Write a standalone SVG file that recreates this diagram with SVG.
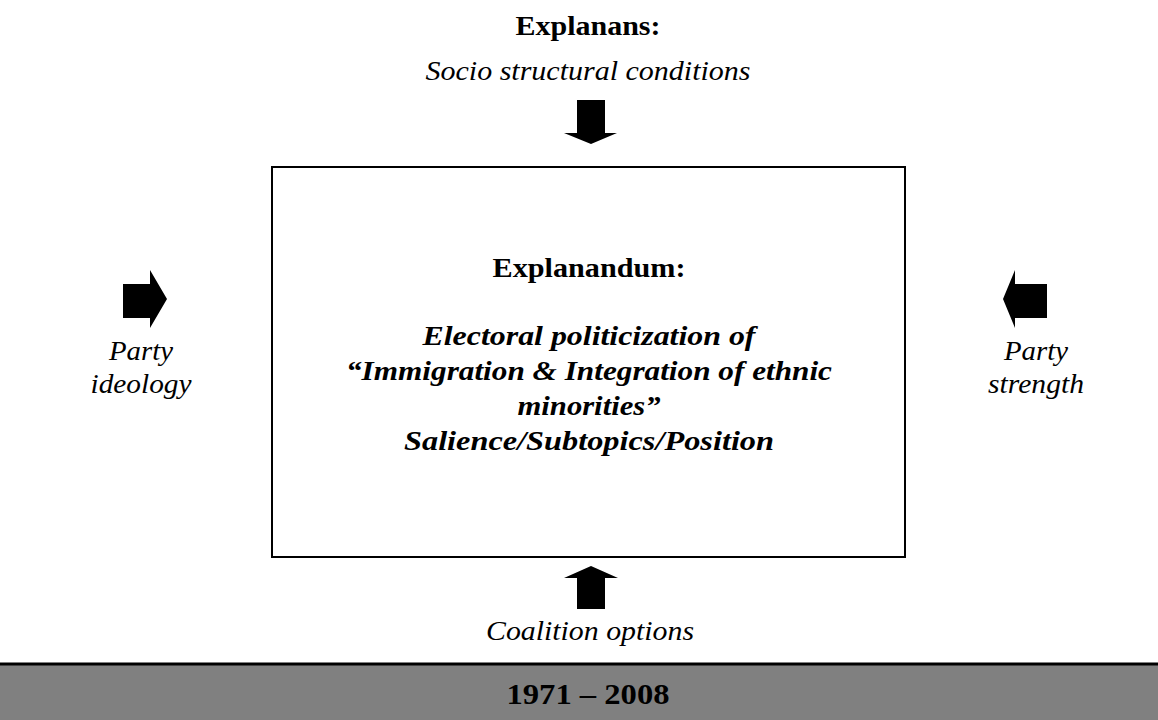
<svg xmlns="http://www.w3.org/2000/svg" width="1158" height="720" viewBox="0 0 1158 720">
<style>
text{font-family:"Liberation Serif","DejaVu Serif",serif;font-size:28px;fill:#000;text-anchor:middle}
.b{font-weight:bold}
.i{font-style:italic}
.bi{font-weight:bold;font-style:italic}
.arrow{fill:#000}
</style>
<rect width="1158" height="720" fill="#fff"/>
<g id="explanans">
<text x="588" y="35" class="b" textLength="145" lengthAdjust="spacingAndGlyphs">Explanans:</text>
<text x="588" y="80" class="i" textLength="325" lengthAdjust="spacingAndGlyphs">Socio structural conditions</text>
</g>
<g id="explanandum">
<rect x="272" y="167" width="633" height="390" fill="#fff" stroke="#000" stroke-width="2"/>
<text x="589" y="277" class="b" textLength="193" lengthAdjust="spacingAndGlyphs">Explanandum:</text>
<text x="589" y="345" class="bi" textLength="333" lengthAdjust="spacingAndGlyphs">Electoral politicization of</text>
<text x="589" y="380" class="bi" textLength="486" lengthAdjust="spacingAndGlyphs">“Immigration &amp; Integration of ethnic</text>
<text x="589" y="415" class="bi" textLength="143" lengthAdjust="spacingAndGlyphs">minorities”</text>
<text x="589" y="450" class="bi" textLength="370" lengthAdjust="spacingAndGlyphs">Salience/Subtopics/Position</text>
</g>
<g id="party-ideology">
<text x="141" y="360" class="i" textLength="64" lengthAdjust="spacingAndGlyphs">Party</text>
<text x="141" y="393" class="i" textLength="101" lengthAdjust="spacingAndGlyphs">ideology</text>
</g>
<g id="party-strength">
<text x="1036" y="360" class="i" textLength="64" lengthAdjust="spacingAndGlyphs">Party</text>
<text x="1036" y="393" class="i" textLength="96" lengthAdjust="spacingAndGlyphs">strength</text>
</g>
<g id="coalition-options">
<text x="590" y="640" class="i" textLength="208" lengthAdjust="spacingAndGlyphs">Coalition options</text>
</g>
<g id="period">
<rect x="0" y="664" width="1158" height="56" fill="#808080"/>
<line x1="0" y1="664" x2="1158" y2="664" stroke="#000" stroke-width="3"/>
<text x="588" y="704" class="b" style="font-size:30px" textLength="163" lengthAdjust="spacingAndGlyphs">1971 – 2008</text>
</g>
<g id="connectors">
<polygon class="arrow" points="577,100 605,100 605,133 617,133 591,144 564,133 577,133"/>
<polygon class="arrow" points="123,284 150,284 150,270 167,299 150,328 150,318 123,318"/>
<polygon class="arrow" points="1047,284 1015,284 1015,270 1003,299 1015,328 1015,318 1047,318"/>
<polygon class="arrow" points="577,609 605,609 605,578 618,578 591,566 564,578 577,578"/>
</g>
</svg>
